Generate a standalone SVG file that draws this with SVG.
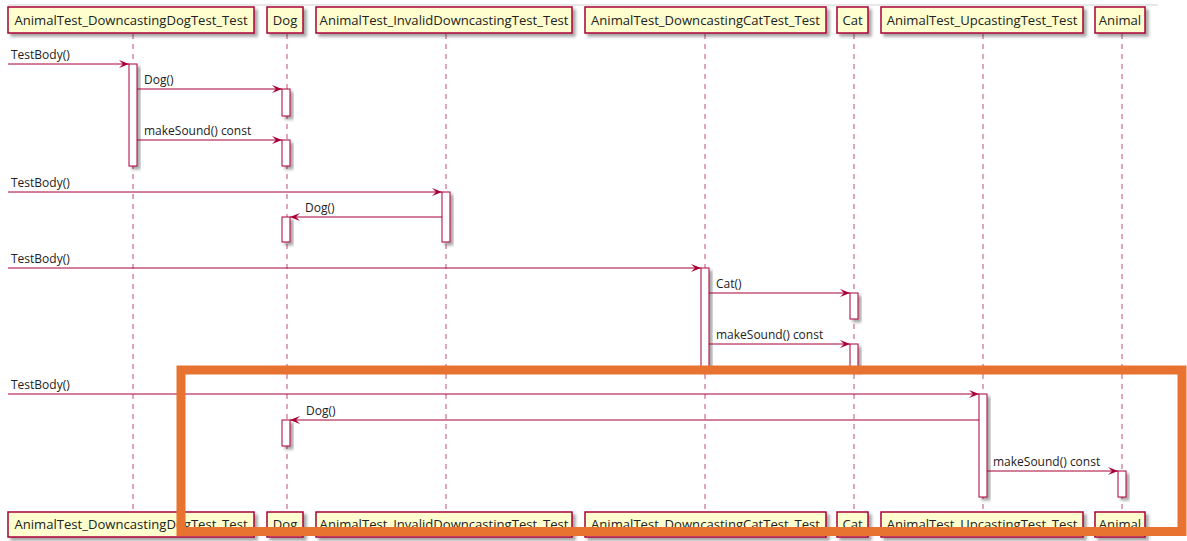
<svg xmlns="http://www.w3.org/2000/svg" width="1187" height="541" viewBox="0 0 1187 541">
  <style>
    .head { fill: #FEFECE; stroke: #A80036; stroke-width: 1.5; filter: url(#shadow); }
    .head-text { font-family: "Open Sans", "Noto Sans", sans-serif; font-size: 13.1px; fill: #222; text-anchor: middle; }
    .life { stroke: #A80036; stroke-width: 1; stroke-dasharray: 5 5; opacity: 0.7; }
    .act { fill: #FFFFFF; stroke: #A80036; stroke-width: 1; filter: url(#shadow); }
    .msg { stroke: #A80036; stroke-width: 1; fill: none; marker-end: url(#arrow); }
    .msg-text { font-family: "Open Sans", "Noto Sans", sans-serif; font-size: 12px; fill: #222; }
  </style>
  <defs>
    <filter id="shadow" x="-50%" y="-50%" width="200%" height="200%">
      <feDropShadow dx="3" dy="3" stdDeviation="1.5" flood-color="#000" flood-opacity="0.35"/>
    </filter>
    <marker id="arrow" markerWidth="10" markerHeight="8" refX="10" refY="4" orient="auto" markerUnits="userSpaceOnUse">
      <path d="M0,0 L10,4 L0,8 L4,4 Z" fill="#A80036"/>
    </marker>
  </defs>

  <rect width="1187" height="541" fill="#FFFFFF"/>
  <line x1="8" y1="5" x2="1158" y2="5" stroke="#D0D0D0" stroke-width="1"/>

  <!-- lifelines -->
  <g id="lifelines">
    <line class="life" x1="133" y1="34" x2="133" y2="512"/>
    <line class="life" x1="287" y1="34" x2="287" y2="512"/>
    <line class="life" x1="446" y1="34" x2="446" y2="512"/>
    <line class="life" x1="705" y1="34" x2="705" y2="512"/>
    <line class="life" x1="854" y1="34" x2="854" y2="512"/>
    <line class="life" x1="983" y1="34" x2="983" y2="512"/>
    <line class="life" x1="1122" y1="34" x2="1122" y2="512"/>
  </g>

  <!-- participants (head and foot boxes) -->
  <g id="p-downcasting-dog">
    <rect class="head" x="8" y="7" width="246" height="26"/>
    <text class="head-text" x="131" y="25">AnimalTest_DowncastingDogTest_Test</text>
    <rect class="head" x="8" y="512" width="246" height="25"/>
    <text class="head-text" x="131" y="529">AnimalTest_DowncastingDogTest_Test</text>
  </g>
  <g id="p-dog">
    <rect class="head" x="267" y="7" width="36" height="26"/>
    <text class="head-text" x="285" y="25">Dog</text>
    <rect class="head" x="267" y="512" width="36" height="25"/>
    <text class="head-text" x="285" y="529">Dog</text>
  </g>
  <g id="p-invalid-downcasting">
    <rect class="head" x="316" y="7" width="256" height="26"/>
    <text class="head-text" x="444" y="25">AnimalTest_InvalidDowncastingTest_Test</text>
    <rect class="head" x="316" y="512" width="256" height="25"/>
    <text class="head-text" x="444" y="529">AnimalTest_InvalidDowncastingTest_Test</text>
  </g>
  <g id="p-downcasting-cat">
    <rect class="head" x="585" y="7" width="241" height="26"/>
    <text class="head-text" x="705.5" y="25">AnimalTest_DowncastingCatTest_Test</text>
    <rect class="head" x="585" y="512" width="241" height="25"/>
    <text class="head-text" x="705.5" y="529">AnimalTest_DowncastingCatTest_Test</text>
  </g>
  <g id="p-cat">
    <rect class="head" x="837" y="7" width="31" height="26"/>
    <text class="head-text" x="852.5" y="25">Cat</text>
    <rect class="head" x="837" y="512" width="31" height="25"/>
    <text class="head-text" x="852.5" y="529">Cat</text>
  </g>
  <g id="p-upcasting">
    <rect class="head" x="881" y="7" width="202" height="26"/>
    <text class="head-text" x="982" y="25">AnimalTest_UpcastingTest_Test</text>
    <rect class="head" x="881" y="512" width="202" height="25"/>
    <text class="head-text" x="982" y="529">AnimalTest_UpcastingTest_Test</text>
  </g>
  <g id="p-animal">
    <rect class="head" x="1095" y="7" width="50" height="26"/>
    <text class="head-text" x="1120" y="25">Animal</text>
    <rect class="head" x="1095" y="512" width="50" height="25"/>
    <text class="head-text" x="1120" y="529">Animal</text>
  </g>

  <!-- activation bars -->
  <g id="activations">
    <rect class="act" x="129" y="64" width="8" height="102"/>
    <rect class="act" x="282" y="89" width="8" height="27"/>
    <rect class="act" x="282" y="140" width="8" height="26"/>
    <rect class="act" x="442" y="192" width="8" height="50"/>
    <rect class="act" x="282" y="217" width="8" height="25"/>
    <rect class="act" x="701" y="268" width="8" height="102"/>
    <rect class="act" x="850" y="293" width="8" height="26"/>
    <rect class="act" x="850" y="344" width="8" height="26"/>
    <rect class="act" x="979" y="394" width="8" height="103"/>
    <rect class="act" x="282" y="420" width="8" height="26"/>
    <rect class="act" x="1118" y="471" width="8" height="26"/>
  </g>

  <!-- messages -->
  <g id="connectors">
    <line class="msg" x1="8" y1="64" x2="129" y2="64"/>
    <text class="msg-text" x="11" y="59">TestBody()</text>
    <line class="msg" x1="137" y1="89" x2="282" y2="89"/>
    <text class="msg-text" x="144" y="84">Dog()</text>
    <line class="msg" x1="137" y1="140" x2="282" y2="140"/>
    <text class="msg-text" x="144" y="135">makeSound() const</text>

    <line class="msg" x1="8" y1="192" x2="442" y2="192"/>
    <text class="msg-text" x="11" y="187">TestBody()</text>
    <line class="msg" x1="442" y1="217" x2="290" y2="217"/>
    <text class="msg-text" x="305" y="212">Dog()</text>

    <line class="msg" x1="8" y1="268" x2="701" y2="268"/>
    <text class="msg-text" x="11" y="263">TestBody()</text>
    <line class="msg" x1="709" y1="293" x2="850" y2="293"/>
    <text class="msg-text" x="716" y="288">Cat()</text>
    <line class="msg" x1="709" y1="344" x2="850" y2="344"/>
    <text class="msg-text" x="716" y="339">makeSound() const</text>

    <line class="msg" x1="8" y1="394" x2="979" y2="394"/>
    <text class="msg-text" x="11" y="389">TestBody()</text>
    <line class="msg" x1="979" y1="420" x2="290" y2="420"/>
    <text class="msg-text" x="306" y="415">Dog()</text>
    <line class="msg" x1="987" y1="471" x2="1118" y2="471"/>
    <text class="msg-text" x="993" y="466">makeSound() const</text>
  </g>

  <!-- highlight frame -->
  <rect x="181" y="370" width="1001" height="161.5" fill="none" stroke="#E8722F" stroke-width="9"/>
</svg>
